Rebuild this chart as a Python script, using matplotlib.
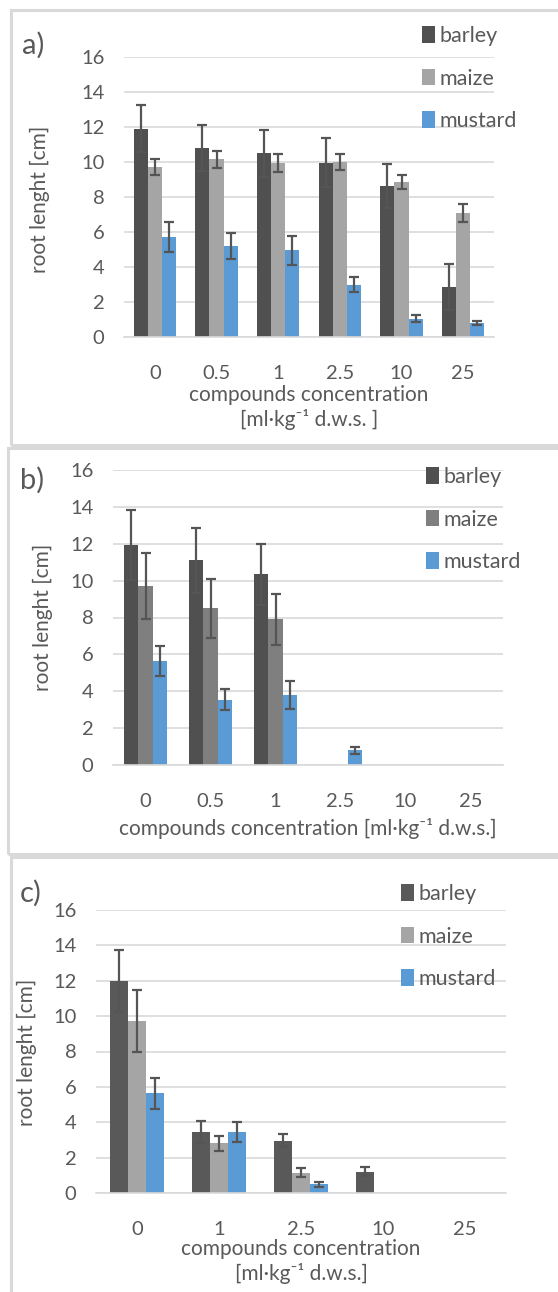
import numpy as np
import matplotlib
matplotlib.use("Agg")
from matplotlib import pyplot as plt
from matplotlib.patches import Rectangle

plt.rcParams['font.family'] = ['Lato', 'DejaVu Sans']

nan = np.nan
species = ["barley", "maize", "mustard"]
cats_ab = ["0", "0.5", "1", "2.5", "10", "25"]
cats_c = ["0", "1", "2.5", "10", "25"]

# panel a)
a_barley = [11.9, 10.8, 10.5, 9.95, 8.65, 2.85]
a_barley_err = [1.35, 1.33, 1.35, 1.4, 1.25, 1.3]
a_maize = [9.7, 10.15, 9.95, 10.0, 8.85, 7.1]
a_maize_err = [0.45, 0.5, 0.5, 0.47, 0.38, 0.5]
a_mustard = [5.7, 5.2, 4.95, 3.0, 1.05, 0.8]
a_mustard_err = [0.85, 0.77, 0.83, 0.42, 0.22, 0.1]

# panel b)
b_barley = [11.95, 11.1, 10.35, nan, nan, nan]
b_barley_err = [1.9, 1.75, 1.65, nan, nan, nan]
b_maize = [9.7, 8.5, 7.9, nan, nan, nan]
b_maize_err = [1.8, 1.6, 1.4, nan, nan, nan]
b_mustard = [5.65, 3.55, 3.8, 0.8, nan, nan]
b_mustard_err = [0.83, 0.55, 0.75, 0.18, nan, nan]

# panel c)
c_barley = [12.0, 3.45, 2.95, 1.2, nan]
c_barley_err = [1.75, 0.6, 0.37, 0.25, nan]
c_maize = [9.75, 2.8, 1.15, nan, nan]
c_maize_err = [1.75, 0.45, 0.27, nan, nan]
c_mustard = [5.65, 3.45, 0.5, nan, nan]
c_mustard_err = [0.88, 0.54, 0.15, nan, nan]

W, H = 558, 1292
fig = plt.figure(figsize=(W / 100, H / 100), dpi=100)
fig.patch.set_facecolor("white")

TXT = "#595959"
GRID = "#d9d9d9"
ERR = "#555555"
UNIT = "[ml·kg⁻¹ d.w.s.]"


def fx(px):
    return px / W


def fy(py):
    return 1 - py / H


def add_ax(left, top, right, bottom):
    return fig.add_axes([fx(left), fy(bottom), fx(right) - fx(left), fy(top) - fy(bottom)])


def panel(ax, cats, vals, errs, colors, width):
    x = np.arange(len(cats))
    for i in range(3):
        off = (i - 1) * width
        ax.bar(x + off, vals[i], width, color=colors[i], label=species[i], zorder=2)
        ax.errorbar(x + off, vals[i], yerr=errs[i], fmt="none", ecolor=ERR,
                    elinewidth=1.6, capsize=3.5, capthick=1.6, zorder=3)
    ax.set_xlim(-0.5, len(cats) - 0.5)
    ax.set_ylim(0, 16)
    ax.set_yticks(range(0, 17, 2))
    ax.set_xticks(x)
    ax.set_xticklabels(cats)
    ax.grid(axis="y", color=GRID, linewidth=1.2, zorder=0)
    ax.set_axisbelow(True)
    for s in ["top", "right", "left"]:
        ax.spines[s].set_visible(False)
    ax.spines["bottom"].set_color(GRID)
    ax.spines["bottom"].set_linewidth(1.2)
    ax.tick_params(length=0, labelsize=14.5, labelcolor=TXT)
    ax.tick_params(axis="y", pad=14)
    ax.tick_params(axis="x", pad=20)
    ax.set_ylabel("root lenght [cm]", fontsize=15, color=TXT)


def legend(ax, left, top):
    ax.legend(loc="upper left", bbox_to_anchor=(fx(left), fy(top)),
              bbox_transform=fig.transFigure, frameon=False, fontsize=15.5,
              labelcolor=TXT, handlelength=0.6, handleheight=0.8,
              handletextpad=0.2, labelspacing=1.05, borderpad=0, borderaxespad=0)


# panel frames
for top, bottom, left in [(10, 445, 11), (448, 854, 8), (857, 1310, 11)]:
    fig.patches.append(Rectangle((fx(left), fy(bottom)), fx(W + 20) - fx(left), fy(top) - fy(bottom),
                                 transform=fig.transFigure, fill=False, edgecolor=GRID, linewidth=2.2))

# a)
ax1 = add_ax(124, 57, 494, 337)
panel(ax1, cats_ab, [a_barley, a_maize, a_mustard], [a_barley_err, a_maize_err, a_mustard_err],
      ["#505050", "#a5a5a5", "#5b9bd5"], 0.23)
ax1.set_xlabel("compounds concentration\n[ml·kg⁻¹ d.w.s. ]", fontsize=15, color=TXT,
               labelpad=2, linespacing=1.25)
ax1.yaxis.set_label_coords(fx(50), fy(199), transform=fig.transFigure)
legend(ax1, 422, 26)
fig.text(fx(22), fy(45), "a)", fontsize=21, color=TXT, va="center")

# b)
ax2 = add_ax(113, 470, 503, 765)
panel(ax2, cats_ab, [b_barley, b_maize, b_mustard], [b_barley_err, b_maize_err, b_mustard_err],
      ["#505050", "#7f7f7f", "#5b9bd5"], 0.22)
ax2.set_xlabel("compounds concentration " + UNIT, fontsize=15, color=TXT, labelpad=6)
ax2.yaxis.set_label_coords(fx(53), fy(617), transform=fig.transFigure)
legend(ax2, 426, 467)
fig.text(fx(20), fy(480), "b)", fontsize=21, color=TXT, va="center")

# c)
ax3 = add_ax(96, 910, 506, 1193)
panel(ax3, cats_c, [c_barley, c_maize, c_mustard], [c_barley_err, c_maize_err, c_mustard_err],
      ["#595959", "#a5a5a5", "#5b9bd5"], 0.22)
ax3.set_xlabel("compounds concentration\n" + UNIT, fontsize=15, color=TXT,
               labelpad=1, linespacing=1.2)
ax3.yaxis.set_label_coords(fx(37), fy(1052), transform=fig.transFigure)
legend(ax3, 401, 884)
fig.text(fx(20), fy(893), "c)", fontsize=21, color=TXT, va="center")

fig.savefig("out.png", dpi=100, facecolor="white")
